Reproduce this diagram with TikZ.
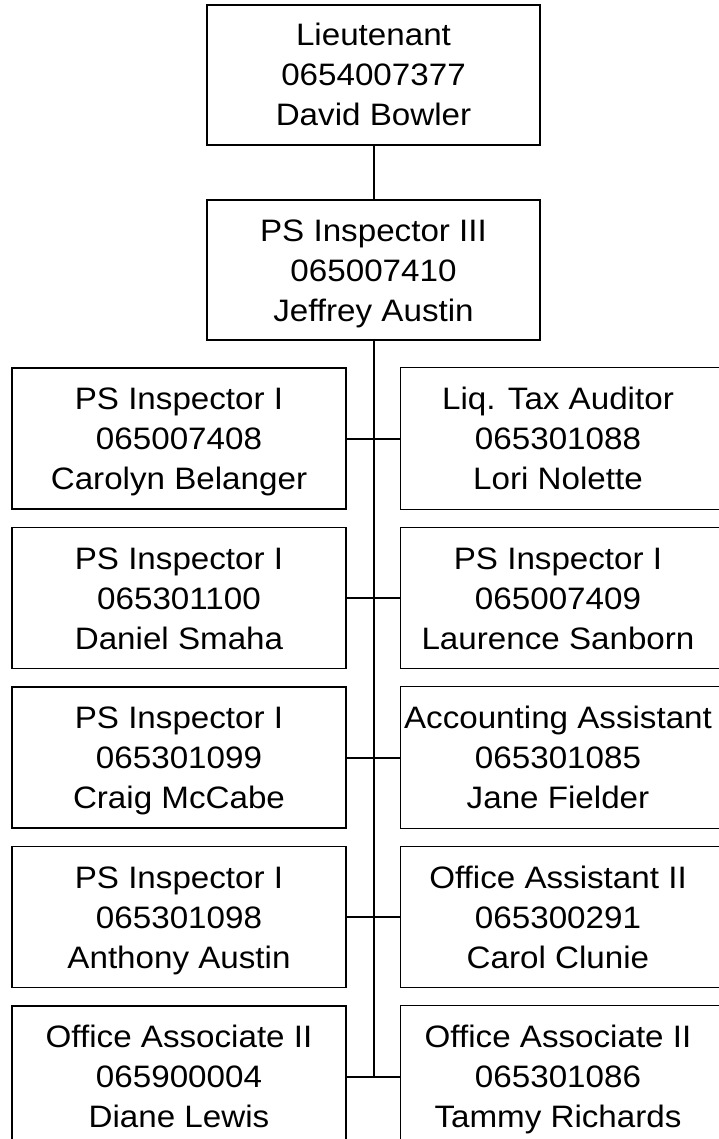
\documentclass[tikz,border=0pt]{standalone}
\usepackage{fontspec}
\setmainfont{Liberation Sans}[FakeStretch=1.07]
\newcommand{\ls}{\rule[-9pt]{0pt}{40pt}}
\begin{document}
\begin{tikzpicture}[x=1pt,y=-1pt,
  box/.style={draw=black, line width=1.1pt, minimum width=334pt, minimum height=141pt,
    inner sep=0pt, align=center, font=\fontsize{31}{40}\selectfont},
  rtext/.style={minimum width=314pt, minimum height=141pt,
    inner sep=0pt, align=center, font=\fontsize{31}{40}\selectfont},
  rside/.style={draw=black, line width=1.1pt},
  conn/.style={draw=black, line width=2pt}]
\useasboundingbox (0,0) rectangle (718,1139);
\fill[white] (0,0) rectangle (718,1139);

\node[box, minimum width=333pt, minimum height=140pt] (lt) at (373.5,75) {\ls Lieutenant\\\ls 0654007377\\\ls David Bowler};
\node[box, minimum width=333pt, minimum height=140pt] (ps3) at (373.5,270) {\ls PS Inspector III\\\ls 065007410\\\ls Jeffrey Austin};

\node[box] (l1) at (179,438.5) {\ls PS Inspector I\\\ls 065007408\\\ls Carolyn Belanger};
\node[box] (l2) at (179,598) {\ls PS Inspector I\\\ls 065301100\\\ls Daniel Smaha};
\node[box] (l3) at (179,757.5) {\ls PS Inspector I\\\ls 065301099\\\ls Craig McCabe};
\node[box] (l4) at (179,917) {\ls PS Inspector I\\\ls 065301098\\\ls Anthony Austin};
\node[box] (l5) at (179,1076.5) {\ls Office Associate II\\\ls 065900004\\\ls Diane Lewis};

\node[rtext] (r1) at (558,438.5) {\ls Liq. Tax Auditor\\\ls 065301088\\\ls Lori Nolette};
\node[rtext] (r2) at (558,598) {\ls PS Inspector I\\\ls 065007409\\\ls Laurence Sanborn};
\node[rtext] (r3) at (558,757.5) {\ls Accounting Assistant\\\ls 065301085\\\ls Jane Fielder};
\node[rtext] (r4) at (558,917) {\ls Office Assistant II\\\ls 065300291\\\ls Carol Clunie};
\node[rtext] (r5) at (558,1076.5) {\ls Office Associate II\\\ls 065301086\\\ls Tammy Richards};

\foreach \n in {r1,r2,r3,r4,r5}{
  \draw[rside] ([xshift=20pt]\n.north east) -- (\n.north west) -- (\n.south west) -- ([xshift=20pt]\n.south east);
}

\draw[conn] (lt.south) -- (ps3.north);
\draw[conn] (ps3.south) -- (ps3.south |- l5.east);
\foreach \i in {1,...,5}{
  \draw[conn] (l\i.east) -- (r\i.west);
}
\end{tikzpicture}
\end{document}
